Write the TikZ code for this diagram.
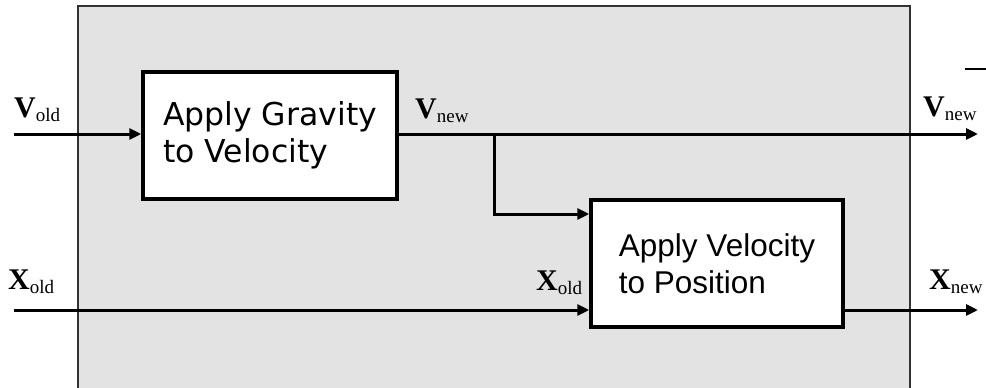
\documentclass[tikz,border=0pt]{standalone}
\usepackage{fontspec}
\setmainfont{Liberation Serif}
\newfontfamily\boxfontA{DejaVu Sans}
\newfontfamily\boxfontB{Liberation Sans}
\usetikzlibrary{arrows.meta}
\tikzset{
  panel/.style={draw=black!80, line width=1.5pt, fill=black!11},
  blockA/.style={draw=black, line width=3.5pt, fill=white, minimum width=254pt, minimum height=127pt, inner sep=0pt, align=left, font=\boxfontA\fontsize{31.5}{37}\selectfont},
  blockB/.style={draw=black, line width=3.5pt, fill=white, minimum width=252pt, minimum height=127pt, inner sep=0pt, align=left, font=\boxfontB\fontsize{31.5}{37}\selectfont},
  flow/.style={line width=3pt, -{Triangle[length=12pt,width=11pt]}},
  lbl/.style={anchor=base west, inner sep=0pt, font=\fontsize{30}{30}\selectfont},
}
\newcommand{\sig}[2]{\textbf{#1}\raisebox{-4pt}{\fontsize{19}{19}\selectfont #2}}
\begin{document}
\begin{tikzpicture}[x=1pt,y=-1pt]
\useasboundingbox (0,0) rectangle (986,388);
\path[panel] (78,6) rectangle (910,400);
\node[blockA] (grav) at (270,135.5) {Apply Gravity\\to Velocity};
\node[blockB] (pos) at (717,263.5) {Apply Velocity\\to Position};
\coordinate (vin) at (14,134);
\coordinate (vout) at (978,134);
\coordinate (xin) at (14,310);
\coordinate (xout) at (978,310);
\coordinate (br) at (494,134);
\draw[flow] (vin) -- (grav.west |- vin);
\draw[flow] (grav.east |- vin) -- (vout);
\draw[flow] (br) |- (pos.west |- 0,214);
\draw[flow] (xin) -- (pos.west |- xin);
\draw[flow] (pos.east |- xout) -- (xout);
\coordinate (s1) at (965,69);
\coordinate (s2) at (986,69);
\draw[line width=1.2pt] (s1) -- (s2);
\node[lbl] (l1) at (14,117) {\sig{V}{old}};
\node[lbl] (l2) at (415,118) {\sig{V}{new}};
\node[lbl] (l3) at (923,116) {\sig{V}{new}};
\node[lbl] (l4) at (8,289) {\sig{X}{old}};
\node[lbl] (l5) at (536,290) {\sig{X}{old}};
\node[lbl] (l6) at (929,289) {\sig{X}{new}};
\end{tikzpicture}
\end{document}
